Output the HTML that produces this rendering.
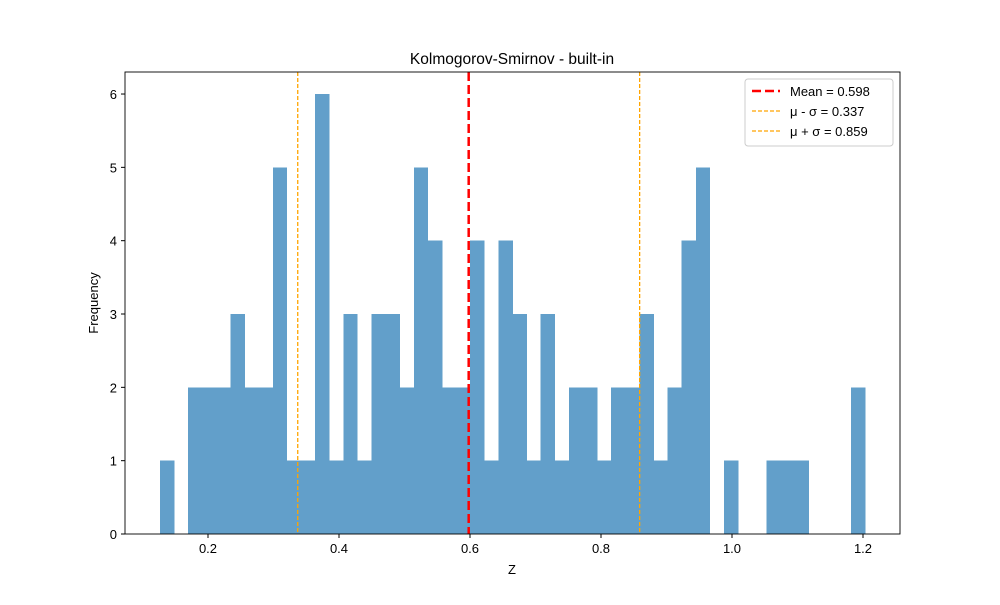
<!DOCTYPE html>
<html><head><meta charset="utf-8"><style>
body{margin:0;background:#fff;}
svg{font-family:"Liberation Sans","DejaVu Sans",sans-serif;}
</style></head><body>
<svg id="chart" width="1000" height="600" viewBox="0 0 1000 600" xmlns="http://www.w3.org/2000/svg">
<rect width="1000" height="600" fill="#fff"/>
<g id="bars" shape-rendering="crispEdges"></g>
<g id="lines"></g>
<rect x="125" y="72" width="775" height="462" fill="none" stroke="#000" stroke-width="0.9"/>
<g id="xticks"></g>
<g id="yticks"></g>
<text x="512" y="64" text-anchor="middle" font-size="15.5">Kolmogorov-Smirnov - built-in</text>
<text x="512" y="574" text-anchor="middle" font-size="13">Z</text>
<text x="98" y="303" text-anchor="middle" font-size="13" transform="rotate(-90 98 303)">Frequency</text>
<g>
<rect x="745" y="79" width="148" height="67" rx="3" fill="#fff" fill-opacity="0.8" stroke="#ccc"/>
<g><line x1="752" y1="91" x2="780" y2="91" stroke="red" stroke-width="2.5" stroke-dasharray="9,4"/><text x="790" y="96" font-size="13">Mean = 0.598</text></g>
<g><line x1="752" y1="111" x2="780" y2="111" stroke="orange" stroke-width="1.3" stroke-dasharray="4,2"/><text x="790" y="116" font-size="13">μ - σ = 0.337</text></g>
<g><line x1="752" y1="131" x2="780" y2="131" stroke="orange" stroke-width="1.3" stroke-dasharray="4,2"/><text x="790" y="136" font-size="13">μ + σ = 0.859</text></g>
</g>
</svg>
<script>
const counts=[1,0,2,2,2,3,2,2,5,1,1,6,1,3,1,3,3,2,5,4,2,2,4,1,4,3,1,3,1,2,2,1,2,2,3,1,2,4,5,0,1,0,0,1,1,1,0,0,0,2];
const binMin=0.1267, binMax=1.203;
const xTicks=[0.2,0.4,0.6,0.8,1.0,1.2];
const xTickLabels=["0.2","0.4","0.6","0.8","1.0","1.2"];
const yTicks=[0,1,2,3,4,5,6];
const meanVal=0.598, lowVal=0.337, highVal=0.859;
const NS="http://www.w3.org/2000/svg";
function xs(v){return 77+655*v;}
function ys(v){return 534-73.33*v;}
function mk(tag,attrs,parent){const e=document.createElementNS(NS,tag);for(const k in attrs)e.setAttribute(k,attrs[k]);parent.appendChild(e);return e;}
const bars=document.getElementById('bars');
const bw=(binMax-binMin)/counts.length;
counts.forEach((c,i)=>{if(!c)return;
 const x0=xs(binMin+i*bw),x1=xs(binMin+(i+1)*bw);
 const r=mk('rect',{x:x0,y:ys(c),width:x1-x0+0.3,height:ys(0)-ys(c),fill:'#629fca'},bars);
 
 
});
const lines=document.getElementById('lines');
[[meanVal,'red',2.5,'9,4','mean-line'],[lowVal,'orange',1.3,'4,2','mu-minus-sigma-line'],[highVal,'orange',1.3,'4,2','mu-plus-sigma-line']].forEach(d=>{
 const l=mk('line',{x1:xs(d[0]),x2:xs(d[0]),y1:72,y2:534,stroke:d[1],'stroke-width':d[2],'stroke-dasharray':d[3]},lines);
 
 
});
const xg=document.getElementById('xticks');
xTicks.forEach((v,i)=>{
 mk('line',{x1:xs(v),x2:xs(v),y1:534,y2:538,stroke:'#000'},xg);
 const t=mk('text',{x:xs(v),y:553,'text-anchor':'middle','font-size':13},xg);t.textContent=xTickLabels[i];
 
 
});
const yg=document.getElementById('yticks');
yTicks.forEach(v=>{
 mk('line',{x1:121,x2:125,y1:ys(v),y2:ys(v),stroke:'#000'},yg);
 const t=mk('text',{x:117,y:ys(v)+5,'text-anchor':'end','font-size':13},yg);t.textContent=String(v);
 
 
});
</script>
</body></html>
